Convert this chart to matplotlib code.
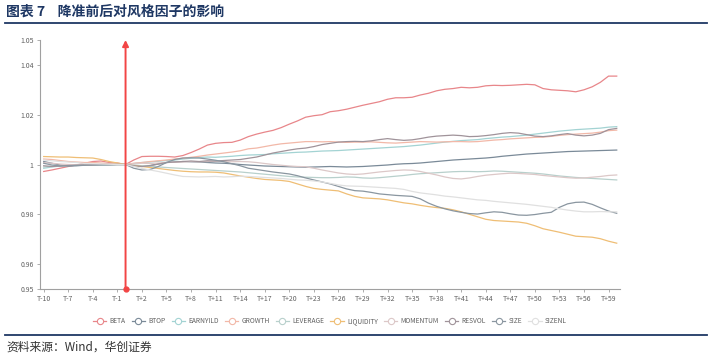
import matplotlib
matplotlib.use("Agg")
import matplotlib.pyplot as plt
from matplotlib.lines import Line2D

plt.rcParams['font.family'] = ['Noto Sans CJK SC', 'DejaVu Sans']

# trading days relative to the RRR cut (T-10 .. T+60)
days = list(range(-10, 61))
tick_days = list(range(-10, 60, 3))
tick_labels = [f"T{d:+d}" for d in tick_days]
y_ticks = [0.95, 0.96, 0.98, 1.0, 1.02, 1.04, 1.05]
y_tick_labels = ['0.95', '0.96', '0.98', '1', '1.02', '1.04', '1.05']

factors = ['BETA', 'BTOP', 'EARNYILD', 'GROWTH', 'LEVERAGE',
           'LIQUIDITY', 'MOMENTUM', 'RESVOL', 'SIZE', 'SIZENL']

beta = [0.9972, 0.9978, 0.9985, 0.9992, 0.9998, 1.0005, 1.0012, 1.0014, 1.0008, 1.0006, 1.0000,
        1.0018, 1.0032, 1.0033, 1.0033, 1.0032, 1.0030, 1.0036, 1.0048, 1.0062, 1.0078,
        1.0085, 1.0088, 1.0089, 1.0098, 1.0112, 1.0122, 1.0130, 1.0137, 1.0148, 1.0162,
        1.0175, 1.0190, 1.0196, 1.0200, 1.0212, 1.0216, 1.0222, 1.0230, 1.0238, 1.0245,
        1.0252, 1.0262, 1.0268, 1.0268, 1.0270, 1.0279, 1.0286, 1.0296, 1.0302, 1.0305,
        1.0310, 1.0308, 1.0310, 1.0316, 1.0318, 1.0317, 1.0318, 1.0320, 1.0322, 1.0320,
        1.0305, 1.0300, 1.0298, 1.0296, 1.0292, 1.0300, 1.0312, 1.0330, 1.0355, 1.0355]
btop = [1.0012, 1.0005, 0.9998, 0.9994, 0.9995, 0.9997, 0.9997, 0.9998, 0.9999, 1.0000, 1.0000,
        0.9995, 0.9992, 0.9996, 1.0002, 1.0008, 1.0010, 1.0012, 1.0011, 1.0010, 1.0008,
        1.0006, 1.0005, 1.0003, 1.0000, 0.9998, 0.9996, 0.9994, 0.9993, 0.9992, 0.9991,
        0.9990, 0.9989, 0.9990, 0.9991, 0.9992, 0.9991, 0.9990, 0.9991, 0.9992, 0.9994,
        0.9996, 0.9998, 1.0001, 1.0003, 1.0004, 1.0006, 1.0009, 1.0012, 1.0015, 1.0018,
        1.0020, 1.0022, 1.0024, 1.0026, 1.0029, 1.0033, 1.0036, 1.0039, 1.0042, 1.0044,
        1.0046, 1.0048, 1.0050, 1.0052, 1.0053, 1.0054, 1.0055, 1.0056, 1.0057, 1.0058]
earnyild = [0.9985, 0.9990, 0.9994, 0.9996, 0.9997, 0.9998, 0.9999, 0.9998, 0.9999, 1.0000, 1.0000,
            1.0004, 1.0008, 1.0010, 1.0013, 1.0016, 1.0018, 1.0022, 1.0025, 1.0028, 1.0030,
            1.0029, 1.0031, 1.0033, 1.0036, 1.0038, 1.0039, 1.0040, 1.0043, 1.0045, 1.0047,
            1.0049, 1.0050, 1.0052, 1.0054, 1.0055, 1.0056, 1.0058, 1.0060, 1.0062, 1.0064,
            1.0066, 1.0068, 1.0070, 1.0072, 1.0075, 1.0078, 1.0082, 1.0086, 1.0090, 1.0093,
            1.0096, 1.0098, 1.0100, 1.0104, 1.0107, 1.0110, 1.0112, 1.0115, 1.0118, 1.0122,
            1.0126, 1.0130, 1.0134, 1.0137, 1.0140, 1.0142, 1.0144, 1.0146, 1.0150, 1.0152]
growth = [1.0022, 1.0020, 1.0016, 1.0012, 1.0010, 1.0008, 1.0008, 1.0006, 1.0004, 1.0003, 1.0000,
          1.0005, 1.0008, 1.0012, 1.0015, 1.0018, 1.0022, 1.0025, 1.0029, 1.0033, 1.0038,
          1.0042, 1.0046, 1.0050, 1.0055, 1.0063, 1.0066, 1.0072, 1.0078, 1.0083, 1.0086,
          1.0089, 1.0092, 1.0092, 1.0091, 1.0092, 1.0090, 1.0089, 1.0090, 1.0090, 1.0091,
          1.0089, 1.0087, 1.0086, 1.0088, 1.0090, 1.0092, 1.0091, 1.0090, 1.0091, 1.0092,
          1.0092, 1.0091, 1.0092, 1.0095, 1.0098, 1.0100, 1.0103, 1.0105, 1.0107, 1.0109,
          1.0110, 1.0113, 1.0117, 1.0120, 1.0122, 1.0124, 1.0126, 1.0130, 1.0136, 1.0138]
leverage = [0.9990, 0.9993, 0.9995, 0.9997, 0.9998, 0.9998, 0.9999, 0.9999, 1.0000, 1.0000, 1.0000,
            0.9998, 0.9995, 0.9993, 0.9990, 0.9988, 0.9986, 0.9984, 0.9982, 0.9980, 0.9978,
            0.9976, 0.9974, 0.9972, 0.9970, 0.9967, 0.9964, 0.9961, 0.9958, 0.9955, 0.9952,
            0.9950, 0.9949, 0.9948, 0.9947, 0.9947, 0.9948, 0.9950, 0.9949, 0.9946, 0.9945,
            0.9947, 0.9950, 0.9953, 0.9956, 0.9960, 0.9963, 0.9965, 0.9967, 0.9969, 0.9971,
            0.9972, 0.9972, 0.9971, 0.9972, 0.9974, 0.9973, 0.9971, 0.9969, 0.9967, 0.9965,
            0.9962, 0.9958, 0.9954, 0.9951, 0.9948, 0.9946, 0.9944, 0.9942, 0.9940, 0.9938]
liquidity = [1.0032, 1.0031, 1.0030, 1.0030, 1.0028, 1.0027, 1.0026, 1.0020, 1.0012, 1.0006, 1.0000,
             0.9996, 0.9992, 0.9988, 0.9984, 0.9980, 0.9976, 0.9973, 0.9971, 0.9970, 0.9970,
             0.9969, 0.9966, 0.9960, 0.9954, 0.9949, 0.9944, 0.9940, 0.9938, 0.9936, 0.9932,
             0.9922, 0.9912, 0.9904, 0.9900, 0.9897, 0.9894, 0.9882, 0.9872, 0.9866, 0.9864,
             0.9862, 0.9858, 0.9852, 0.9846, 0.9842, 0.9836, 0.9831, 0.9827, 0.9824, 0.9818,
             0.9810, 0.9800, 0.9790, 0.9780, 0.9775, 0.9773, 0.9771, 0.9769, 0.9764, 0.9754,
             0.9742, 0.9735, 0.9728, 0.9720, 0.9712, 0.9710, 0.9708, 0.9702, 0.9692, 0.9684]
momentum = [1.0008, 1.0005, 1.0002, 1.0000, 0.9999, 0.9998, 0.9999, 1.0000, 1.0000, 1.0000, 1.0000,
            1.0003, 1.0005, 1.0004, 1.0006, 1.0008, 1.0009, 1.0010, 1.0012, 1.0011, 1.0012,
            1.0013, 1.0012, 1.0011, 1.0012, 1.0011, 1.0008, 1.0004, 1.0000, 0.9997, 0.9994,
            0.9992, 0.9991, 0.9985, 0.9978, 0.9972, 0.9966, 0.9962, 0.9960, 0.9962, 0.9966,
            0.9970, 0.9973, 0.9976, 0.9978, 0.9977, 0.9972, 0.9965, 0.9958, 0.9950, 0.9944,
            0.9942, 0.9946, 0.9952, 0.9957, 0.9960, 0.9963, 0.9965, 0.9964, 0.9962, 0.9960,
            0.9956, 0.9953, 0.9950, 0.9947, 0.9945, 0.9946, 0.9949, 0.9952, 0.9956, 0.9958]
resvol = [0.9995, 0.9992, 0.9994, 0.9996, 0.9997, 0.9998, 0.9999, 1.0000, 1.0000, 1.0000, 1.0000,
          0.9995, 0.9992, 0.9995, 1.0002, 1.0008, 1.0010, 1.0012, 1.0014, 1.0012, 1.0015,
          1.0014, 1.0016, 1.0018, 1.0020, 1.0025, 1.0030, 1.0038, 1.0046, 1.0052, 1.0058,
          1.0063, 1.0066, 1.0072, 1.0080, 1.0085, 1.0090, 1.0092, 1.0093, 1.0092, 1.0095,
          1.0100, 1.0104, 1.0100, 1.0097, 1.0099, 1.0104, 1.0110, 1.0114, 1.0116, 1.0118,
          1.0116, 1.0112, 1.0113, 1.0116, 1.0120, 1.0125, 1.0128, 1.0126, 1.0120, 1.0114,
          1.0112, 1.0115, 1.0120, 1.0124, 1.0118, 1.0115, 1.0118, 1.0125, 1.0140, 1.0145]
size = [1.0005, 0.9998, 0.9994, 0.9995, 0.9996, 0.9997, 0.9998, 0.9999, 0.9999, 1.0000, 1.0000,
        0.9985, 0.9978, 0.9980, 0.9992, 1.0008, 1.0020, 1.0026, 1.0027, 1.0026, 1.0022,
        1.0017, 1.0011, 1.0003, 0.9995, 0.9985, 0.9980, 0.9975, 0.9970, 0.9966, 0.9962,
        0.9955, 0.9946, 0.9938, 0.9930, 0.9922, 0.9912, 0.9902, 0.9895, 0.9893, 0.9888,
        0.9882, 0.9879, 0.9876, 0.9874, 0.9872, 0.9862, 0.9845, 0.9832, 0.9822, 0.9814,
        0.9808, 0.9803, 0.9801, 0.9806, 0.9810, 0.9808, 0.9802, 0.9797, 0.9796, 0.9799,
        0.9804, 0.9808, 0.9828, 0.9842, 0.9848, 0.9849, 0.9840, 0.9826, 0.9813, 0.9804]
sizenl = [1.0018, 1.0015, 1.0012, 1.0010, 1.0008, 1.0004, 1.0003, 1.0002, 1.0001, 1.0000, 1.0000,
          0.9992, 0.9984, 0.9978, 0.9972, 0.9965, 0.9958, 0.9952, 0.9951, 0.9950, 0.9951,
          0.9952, 0.9950, 0.9951, 0.9953, 0.9952, 0.9950, 0.9948, 0.9946, 0.9944, 0.9941,
          0.9938, 0.9937, 0.9934, 0.9930, 0.9924, 0.9918, 0.9914, 0.9913, 0.9912, 0.9910,
          0.9908, 0.9906, 0.9904, 0.9900, 0.9892, 0.9886, 0.9882, 0.9878, 0.9873, 0.9870,
          0.9866, 0.9862, 0.9858, 0.9856, 0.9852, 0.9849, 0.9846, 0.9843, 0.9840, 0.9836,
          0.9832, 0.9828, 0.9822, 0.9817, 0.9813, 0.9810, 0.9810, 0.9811, 0.9810, 0.9810]

series = [beta, btop, earnyild, growth, leverage, liquidity, momentum, resvol, size, sizenl]
colors = ['#e8868a', '#7a8a98', '#a3d3d3', '#f2b8a8', '#b8d0cc',
          '#efbe75', '#dcc8c8', '#a0939a', '#8a96a0', '#e0e0e0']

navy = '#1f3864'
axis_gray = '#a0a0a0'
text_gray = '#606060'

fig = plt.figure(figsize=(7.12, 3.56), dpi=100)
ax = fig.add_axes([40 / 712, 1 - 289 / 356, 580 / 712, 249 / 356])

for name, vals, c in zip(factors, series, colors):
    ax.plot(days, vals, color=c, lw=0.9, label=name)

# red marker line at the RRR cut day
ax.annotate('', xy=(0, 1.05), xytext=(0, 0.95),
            arrowprops=dict(arrowstyle='-|>', color='#f24545', lw=1.4,
                            mutation_scale=9, shrinkA=0, shrinkB=0),
            annotation_clip=False)
ax.plot([0], [0.95], 'o', color='#f24545', ms=3.5, clip_on=False, zorder=5)

ax.set_xlim(-10.45, 60.4)
ax.set_ylim(0.95, 1.05)
ax.set_xticks(tick_days)
ax.set_xticklabels(tick_labels)
ax.set_yticks(y_ticks)
ax.set_yticklabels(y_tick_labels)
ax.tick_params(axis='both', labelsize=5, colors=text_gray, length=2.5, width=0.6, pad=2)
ax.tick_params(axis='both', color=axis_gray)
for side in ['top', 'right']:
    ax.spines[side].set_visible(False)
for side in ['left', 'bottom']:
    ax.spines[side].set_color(axis_gray)
    ax.spines[side].set_linewidth(0.8)

handles = [Line2D([0], [0], color=c, lw=0.9, marker='o', ms=4.5,
                  markerfacecolor='white', markeredgecolor=c, markeredgewidth=0.8)
           for c in colors]
leg = ax.legend(handles, factors, loc='upper center', bbox_to_anchor=(0.5, -0.09),
                ncol=10, frameon=False, fontsize=4.8, handlelength=2.0,
                handletextpad=0.5, columnspacing=0.9, labelcolor=text_gray)

# title and source
fig.text(6 / 712, 1 - 12 / 356, '图表 7    降准前后对风格因子的影响', fontsize=10,
         fontweight='bold', color=navy, va='center', ha='left')
fig.add_artist(Line2D([5 / 712, 707 / 712], [1 - 23 / 356] * 2, color=navy, lw=1.3))
fig.add_artist(Line2D([5 / 712, 707 / 712], [1 - 335 / 356] * 2, color=navy, lw=1.3))
fig.text(6 / 712, 1 - 347 / 356, '资料来源：Wind，华创证券', fontsize=8.5,
         style='italic', color='#333333', va='center', ha='left')

fig.savefig('out.png', dpi=100)
